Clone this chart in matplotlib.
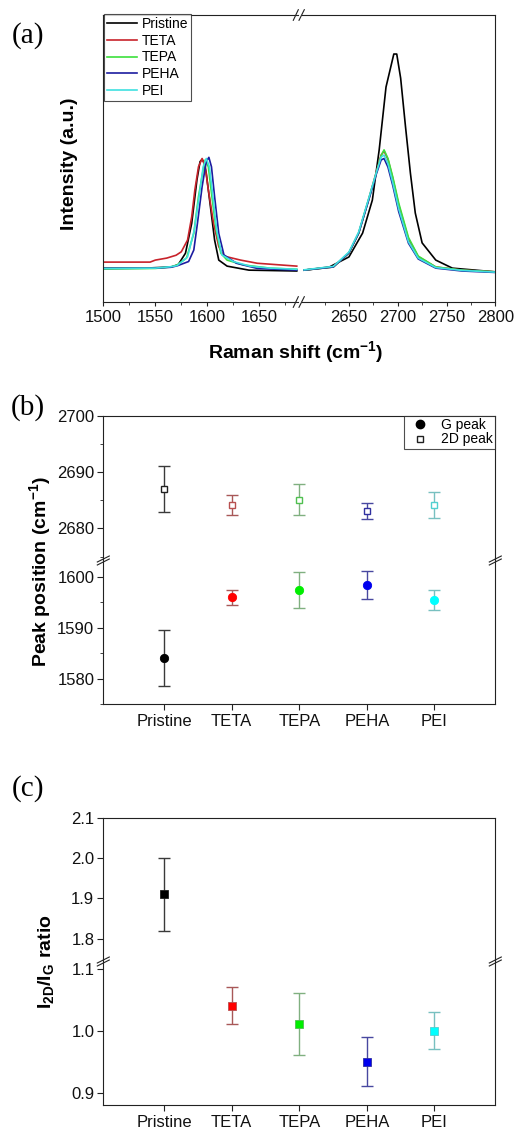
import matplotlib
matplotlib.use("Agg")
import matplotlib.pyplot as plt
from matplotlib.lines import Line2D
from matplotlib.ticker import MultipleLocator, FormatStrFormatter

plt.rcParams['font.family'] = ['Liberation Sans', 'DejaVu Sans']
plt.rcParams['mathtext.fontset'] = 'custom'
plt.rcParams['mathtext.rm'] = 'Liberation Sans'
plt.rcParams['mathtext.bf'] = 'Liberation Sans:bold'
plt.rcParams['mathtext.it'] = 'Liberation Sans:italic'

# ---- datos panel (a): espectros Raman (u.a.)
samples = ['Pristine', 'TETA', 'TEPA', 'PEHA', 'PEI']
line_colors = ['#000000', '#c8232b', '#3ce03c', '#1c1ca0', '#40e0e0']

g_x_pristine = [1500, 1540, 1565, 1572, 1579, 1585, 1590, 1593, 1595, 1597, 1599, 1603, 1607, 1611, 1619, 1640, 1686]
g_y_pristine = [.118, .118, .122, .130, .170, .274, .425, .489, .497, .485, .448, .332, .216, .146, .125, .111, .108]
g_x_teta = [1500, 1545, 1550, 1561, 1570, 1575, 1581, 1585, 1588, 1591.5, 1595, 1598, 1601, 1606, 1611, 1616, 1632, 1648, 1686]
g_y_teta = [.139, .139, .146, .153, .163, .175, .216, .297, .390, .471, .500, .471, .390, .274, .193, .160, .146, .135, .125]
g_x_tepa = [1500, 1550, 1565, 1571, 1580, 1587, 1591.5, 1596, 1598, 1601, 1604, 1608.5, 1613, 1619, 1635, 1660, 1686]
g_y_tepa = [.115, .117, .122, .129, .153, .239, .367, .460, .495, .471, .379, .251, .170, .146, .129, .118, .114]
g_x_peha = [1500, 1550, 1565, 1571, 1582, 1587, 1590.5, 1595, 1599, 1601.5, 1604, 1607, 1611, 1616, 1628, 1648, 1686]
g_y_peha = [.117, .118, .121, .126, .141, .181, .274, .402, .489, .504, .471, .367, .239, .164, .135, .117, .111]
g_x_pei = [1500, 1550, 1565, 1571, 1581, 1587.5, 1592.5, 1596, 1599, 1602, 1605, 1609, 1614, 1625, 1641, 1660, 1686]
g_y_pei = [.117, .118, .123, .127, .157, .251, .379, .471, .500, .471, .379, .251, .164, .141, .125, .118, .114]

d_x_pristine = [2604, 2630, 2650, 2664, 2674, 2681, 2688, 2696, 2699, 2703, 2708, 2713, 2718, 2725, 2739, 2756, 2800]
d_y_pristine = [.111, .122, .157, .240, .355, .530, .749, .864, .864, .780, .610, .449, .310, .206, .146, .118, .105]
d_x_amine = [2604, 2634, 2650, 2660, 2670, 2678, 2683, 2686, 2690, 2695, 2701, 2711, 2721, 2739, 2766, 2800]
d_y_teta = [.111, .122, .171, .240, .355, .452, .512, .526, .497, .430, .338, .220, .158, .122, .111, .105]
d_y_tepa = [.111, .122, .171, .240, .355, .449, .510, .530, .500, .435, .345, .225, .160, .122, .111, .105]
d_y_peha = [.111, .122, .171, .240, .352, .445, .495, .500, .470, .405, .315, .205, .150, .118, .108, .103]
d_y_pei = [.112, .124, .174, .244, .358, .450, .505, .512, .482, .415, .325, .210, .153, .120, .110, .104]

# ---- datos panel (b) y (c)
g_peak = [1584.0, 1596.0, 1597.4, 1598.4, 1595.4]
g_err = [5.5, 1.5, 3.5, 2.7, 2.0]
d_peak = [2687.0, 2684.1, 2685.1, 2683.1, 2684.1]
d_err = [4.0, 1.8, 2.7, 1.5, 2.3]
ratio = [1.91, 1.04, 1.01, 0.95, 1.00]
ratio_err = [0.09, 0.03, 0.05, 0.04, 0.03]

fill_colors = ['#000000', '#ff0000', '#00ee00', '#0000ee', '#00ffff']
err_colors = ['#3a3a3a', '#a85858', '#80b080', '#4848a0', '#78c0c0']
edge_colors = ['#202020', '#b85050', '#50c050', '#3030a0', '#50d0d0']

W, H = 515, 1129
fig = plt.figure(figsize=(W / 100, H / 100), dpi=100)
SPINE = '#222222'


def rect(x0, y0, x1, y1):
    # pixeles -> fraccion de figura
    return [x0 / W, 1 - y1 / H, (x1 - x0) / W, (y1 - y0) / H]


def fx(px):
    return px / W


def fy(py):
    return 1 - py / H


def seg(x0, y0, x1, y1):
    fig.add_artist(Line2D([fx(x0), fx(x1)], [fy(y0), fy(y1)], color=SPINE, lw=0.8,
                          transform=fig.transFigure))


def style(ax):
    for s in ax.spines.values():
        s.set_color(SPINE)
        s.set_linewidth(0.8)
    ax.tick_params(colors=SPINE, labelcolor='#111111', labelsize=12)


# ================= panel (a)
axl = fig.add_axes(rect(103.3, 15, 297.5, 302))
axr = fig.add_axes(rect(301.6, 15, 495.3, 302))
g_sets = [(g_x_pristine, g_y_pristine), (g_x_teta, g_y_teta), (g_x_tepa, g_y_tepa),
          (g_x_peha, g_y_peha), (g_x_pei, g_y_pei)]
d_sets = [(d_x_pristine, d_y_pristine), (d_x_amine, d_y_teta), (d_x_amine, d_y_tepa),
          (d_x_amine, d_y_peha), (d_x_amine, d_y_pei)]
for i in range(5):
    axl.plot(g_sets[i][0], g_sets[i][1], color=line_colors[i], lw=1.2, label=samples[i])
    axr.plot(d_sets[i][0], d_sets[i][1], color=line_colors[i], lw=1.2)

for ax in (axl, axr):
    style(ax)
    ax.set_ylim(0, 1)
    ax.set_yticks([])
    ax.tick_params(axis='x', direction='out', length=3, pad=3)
    ax.tick_params(axis='x', which='minor', direction='out', length=2, color=SPINE)
    ax.xaxis.set_minor_locator(MultipleLocator(25))
    ax.xaxis.set_major_locator(MultipleLocator(50))
axl.set_xlim(1500, 1686.7)
axr.set_xlim(2601.5, 2800)
axl.spines['right'].set_visible(False)
axr.spines['left'].set_visible(False)

leg = axl.legend(loc='upper left', bbox_to_anchor=(0.003, 1.003), borderaxespad=0,
                 fontsize=10, frameon=True, fancybox=False, handlelength=2.2,
                 handletextpad=0.35, borderpad=0.2, labelspacing=0.2)
leg.get_frame().set_edgecolor(SPINE)
leg.get_frame().set_linewidth(0.8)

for yb in (15, 302):
    seg(293.3, yb + 5.3, 298.3, yb - 5.3)
    seg(299.0, yb + 5.3, 304.3, yb - 5.3)

fig.text(fx(70), fy(164), 'Intensity (a.u.)', rotation=90, fontsize=14, fontweight='bold',
         ha='center', va='center')
fig.text(fx(296), fy(352), r'Raman shift (cm$^{\mathbf{-1}}$)', fontsize=14, fontweight='bold',
         ha='center', va='center')

# ================= panel (b)
xs = [1, 2, 3, 4, 5]
bt = fig.add_axes(rect(103.3, 415.7, 495.3, 560))
bb = fig.add_axes(rect(103.3, 560, 495.3, 704))
for ax in (bt, bb):
    style(ax)
    ax.set_xlim(0.1, 5.9)
    for i in range(5):
        ax.errorbar(xs[i], g_peak[i], yerr=g_err[i], fmt='none', ecolor=err_colors[i],
                    elinewidth=1.0, capsize=4.3, capthick=1.0)
        ax.plot(xs[i], g_peak[i], 'o', ms=6, mfc=fill_colors[i], mec=fill_colors[i], mew=0.6)
        ax.errorbar(xs[i], d_peak[i], yerr=d_err[i], fmt='none', ecolor=err_colors[i],
                    elinewidth=1.0, capsize=4.3, capthick=1.0)
        ax.plot(xs[i], d_peak[i], 's', ms=5, mfc='white', mec=edge_colors[i], mew=1.0)
    ax.yaxis.set_major_locator(MultipleLocator(10))
    ax.yaxis.set_minor_locator(MultipleLocator(5))
    ax.tick_params(axis='y', which='major', direction='out', length=4.5, pad=2)
    ax.tick_params(axis='y', which='minor', direction='out', length=2.5, color=SPINE)
    ax.tick_params(axis='x', direction='out', length=4.3, pad=3)
bt.set_ylim(2674.4, 2700)
bb.set_ylim(1575, 1603.3)
bt.spines['bottom'].set_visible(False)
bb.spines['top'].set_visible(False)
bt.set_xticks([])
bb.set_xticks(xs)
bb.set_xticklabels(samples, fontsize=12)

hb = [Line2D([], [], ls='none', marker='o', ms=6, mfc='black', mec='black'),
      Line2D([], [], ls='none', marker='s', ms=5, mfc='white', mec='#202020', mew=1.0)]
leg2 = bt.legend(hb, ['G peak', '2D peak'], loc='upper right', bbox_to_anchor=(0.998, 1.0),
                 borderaxespad=0, fontsize=10, fancybox=False, handlelength=2.0,
                 handletextpad=0.45, borderpad=0.15, labelspacing=0.05)
leg2.get_frame().set_edgecolor(SPINE)
leg2.get_frame().set_linewidth(0.8)

for xb in (103.3, 495.3):
    seg(xb - 6, 560 + 2, xb + 6, 560 - 4)
    seg(xb - 6, 560 + 5, xb + 6, 560 - 1)

fig.text(fx(40), fy(572), r'Peak position (cm$^{\mathbf{-1}}$)', rotation=90, fontsize=14,
         fontweight='bold', ha='center', va='center')

# ================= panel (c)
ct = fig.add_axes(rect(103.3, 817.7, 495.3, 960))
cb = fig.add_axes(rect(103.3, 960, 495.3, 1105))
for ax in (ct, cb):
    style(ax)
    ax.set_xlim(0.1, 5.9)
    for i in range(5):
        ax.errorbar(xs[i], ratio[i], yerr=ratio_err[i], fmt='none', ecolor=err_colors[i],
                    elinewidth=1.0, capsize=4.3, capthick=1.0)
        ax.plot(xs[i], ratio[i], 's', ms=5.5, mfc=fill_colors[i], mec=edge_colors[i], mew=0.6)
    ax.yaxis.set_major_locator(MultipleLocator(0.1))
    ax.yaxis.set_major_formatter(FormatStrFormatter('%.1f'))
    ax.tick_params(axis='y', direction='out', length=4.5, pad=2)
    ax.tick_params(axis='x', direction='out', length=4.3, pad=3)
ct.set_ylim(1.747, 2.1)
cb.set_ylim(0.88, 1.114)
ct.spines['bottom'].set_visible(False)
cb.spines['top'].set_visible(False)
ct.set_xticks([])
cb.set_xticks(xs)
cb.set_xticklabels(samples, fontsize=12)

for xb in (103.3, 495.3):
    seg(xb - 6, 961 + 2, xb + 6, 961 - 4)
    seg(xb - 6, 961 + 5, xb + 6, 961 - 1)

fig.text(fx(46), fy(962), r'$\mathbf{I_{2D}/I_G}$ ratio', rotation=90, fontsize=14,
         fontweight='bold', ha='center', va='center')

# etiquetas de panel
for lab, yy in (('(a)', 36), ('(b)', 408), ('(c)', 789)):
    fig.text(fx(28), fy(yy), lab, fontsize=21, family='Liberation Serif', ha='center', va='center')

fig.savefig('out.png', dpi=100)
